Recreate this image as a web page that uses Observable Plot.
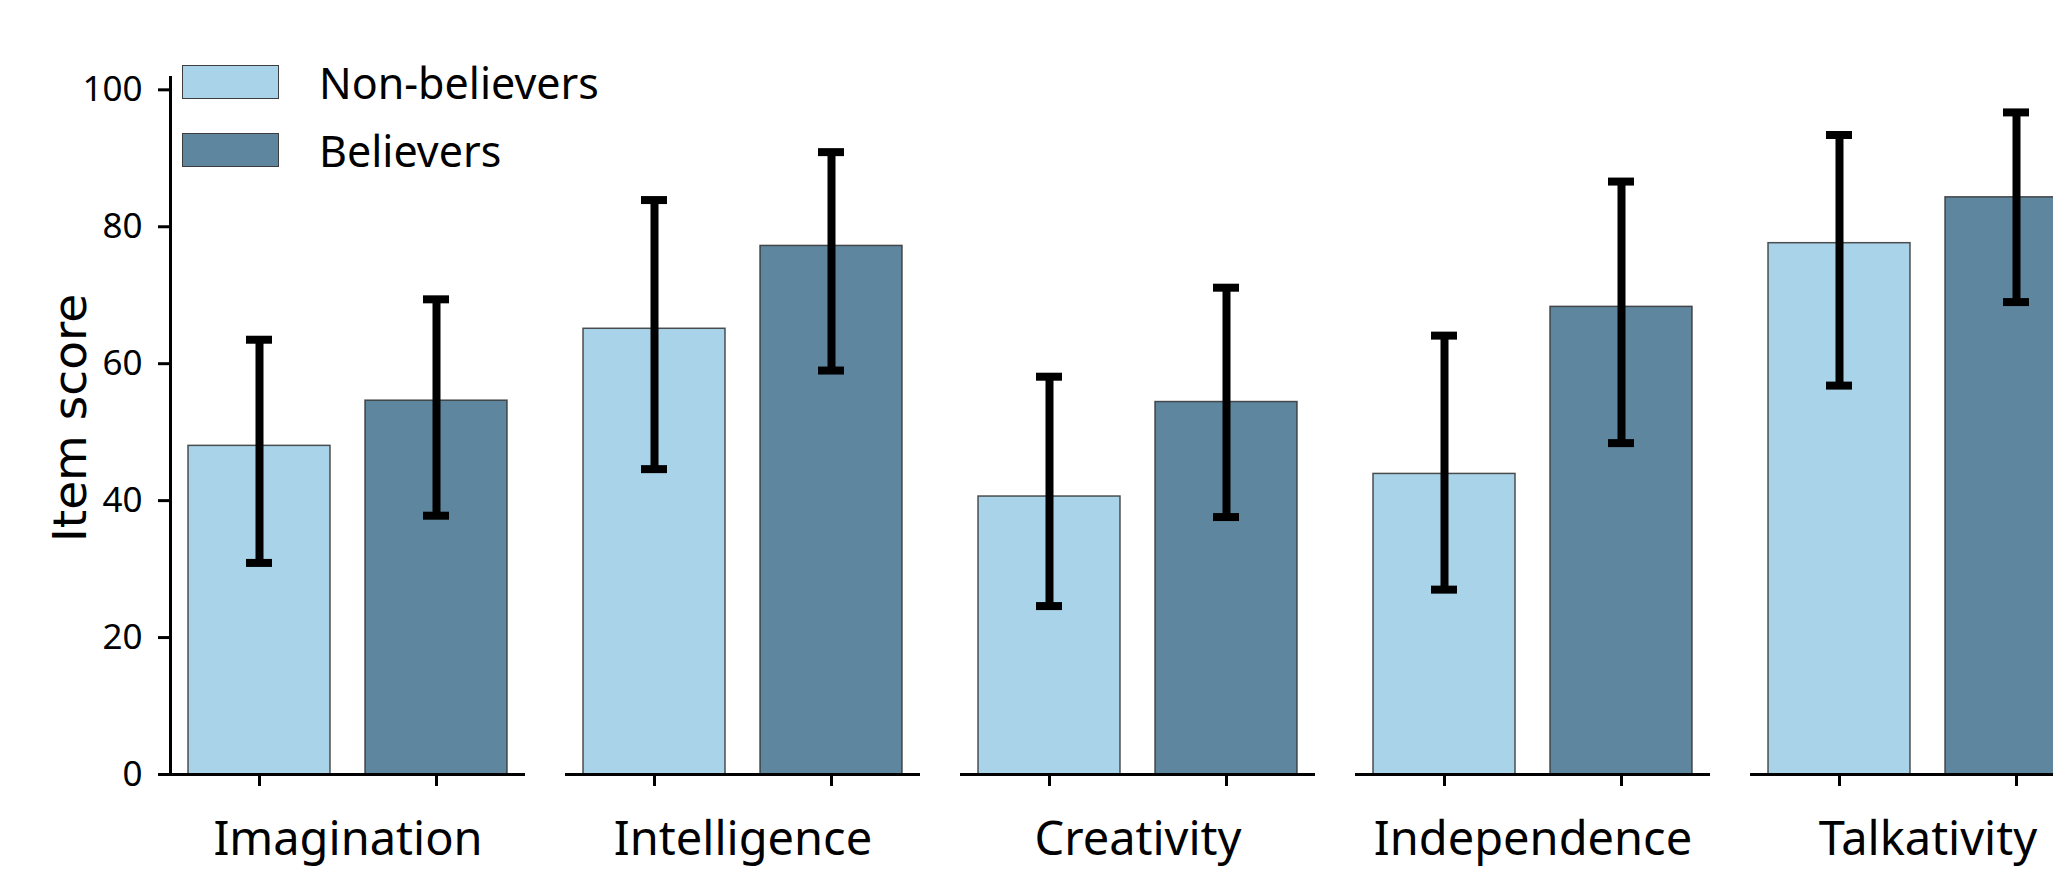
<!DOCTYPE html>
<html>
<head>
<meta charset="utf-8">
<script src="https://cdn.jsdelivr.net/npm/d3@7"></script>
<script src="https://cdn.jsdelivr.net/npm/@observablehq/plot@0.6"></script>
<style>
  html, body { margin: 0; padding: 0; background: white; overflow: hidden; }
  #wrap { position: relative; width: 2053px; height: 871px; overflow: hidden; }
  #chart { width: 2105px; }
  #chart svg { max-width: none !important; display: block; }
  #legend { position: absolute; left: 182px; top: 65px; font-family: "Noto Sans", sans-serif; font-size: 43px; color: #000; }
  #legend .row { display: flex; align-items: center; height: 34px; margin-bottom: 34px; }
  #legend .sw { width: 95px; height: 32px; border: 1.5px solid #3d3d3d; margin-right: 40px; box-sizing: content-box; }
  #ylabel { position: absolute; left: 69px; top: 418px; transform: translate(-50%, -50%) rotate(-90deg); font-family: "DejaVu Sans", sans-serif; font-size: 47px; white-space: nowrap; color: #000; }
</style>
</head>
<body>
<div id="wrap">
  <div id="chart"></div>
  <div id="legend"></div>
  <div id="ylabel">Item score</div>
</div>
<script>
const categories = ["Imagination", "Intelligence", "Creativity", "Independence", "Talkativity"];
const groups = ["Non-believers", "Believers"];
const colors = ["#a8d3e8", "#5f869f"];
const nonMean = [48.0, 65.1, 40.6, 43.9, 77.6];
const nonLow  = [30.9, 44.6, 24.6, 27.0, 56.8];
const nonHigh = [63.5, 83.9, 58.1, 64.1, 93.4];
const belMean = [54.6, 77.2, 54.4, 68.3, 84.3];
const belLow  = [37.8, 59.0, 37.6, 48.4, 69.0];
const belHigh = [69.4, 90.9, 71.1, 86.6, 96.7];
const yTicks = [0, 20, 40, 60, 80, 100];

const rows = [];
categories.forEach((c, i) => {
  rows.push({cat: c, group: groups[0], mean: nonMean[i], lo: nonLow[i], hi: nonHigh[i]});
  rows.push({cat: c, group: groups[1], mean: belMean[i], lo: belLow[i], hi: belHigh[i]});
});

const plot = Plot.plot({
  width: 2105,
  height: 871,
  marginLeft: 169,
  marginRight: 0,
  marginTop: 77,
  marginBottom: 97,
  facet: {margin: 0},
  style: {fontFamily: "Noto Sans, sans-serif", background: "white", overflow: "visible", maxWidth: "none"},
  fx: {domain: categories, paddingInner: 0.102, paddingOuter: 0},
  x: {domain: groups, paddingInner: 0.2, paddingOuter: 0.1},
  y: {domain: [0, 101.8]},
  color: {domain: groups, range: colors},
  marks: [
    Plot.barY(rows, {fx: "cat", x: "group", y: "mean", fill: "group", stroke: "#333", strokeWidth: 1.5, strokeOpacity: 0.85}),
    Plot.ruleX(rows, {fx: "cat", x: "group", y1: "lo", y2: "hi", stroke: "black", strokeWidth: 8}),
    Plot.tickY(rows, {fx: "cat", x: "group", y: "lo", stroke: "black", strokeWidth: 8, insetLeft: 58, insetRight: 58}),
    Plot.tickY(rows, {fx: "cat", x: "group", y: "hi", stroke: "black", strokeWidth: 8, insetLeft: 58, insetRight: 58}),
    Plot.ruleY([0], {stroke: "black", strokeWidth: 3}),
    Plot.frame({anchor: "left", fx: "Imagination", stroke: "black", strokeWidth: 3}),
    Plot.axisY({ticks: yTicks, tickSize: 12, tickPadding: 16, fontSize: 35, strokeWidth: 3, label: null}),
    Plot.axisX({tickSize: 12, strokeWidth: 3, tickFormat: () => "", label: null}),
    Plot.axisFx({anchor: "bottom", tickSize: 0, tickPadding: 47.6, fontSize: 47, label: null})
  ]
});
document.getElementById("chart").appendChild(plot);

const legend = document.getElementById("legend");
groups.forEach((g, i) => {
  const row = document.createElement("div");
  row.className = "row";
  const sw = document.createElement("div");
  sw.className = "sw";
  sw.style.background = colors[i];
  const t = document.createElement("span");
  t.textContent = g;
  row.appendChild(sw);
  row.appendChild(t);
  legend.appendChild(row);
});
</script>
</body>
</html>
